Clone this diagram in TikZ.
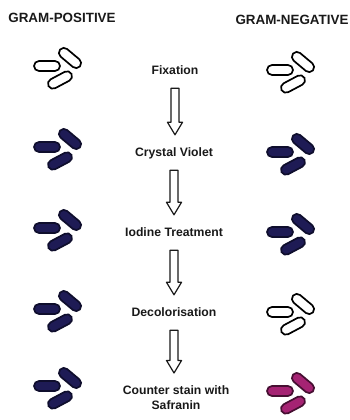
\documentclass[tikz,border=0pt]{standalone}
\usepackage{fontspec}
\setmainfont{Liberation Sans}
\usetikzlibrary{calc}

\definecolor{ink}{RGB}{25,25,25}
\definecolor{violetfill}{RGB}{30,27,85}
\definecolor{violetedge}{RGB}{15,14,45}
\definecolor{safrafill}{RGB}{165,35,115}
\definecolor{safraedge}{RGB}{70,15,50}

\tikzset{
  pics/rod/.style 2 args={code={
    \draw[rounded corners=5pt, line width=1.7pt, draw=#2, fill=#1] (-13,-5) rectangle (13,5);
  }},
  pics/cluster/.style 2 args={code={
    \pic at (0,0) {rod={#1}{#2}};
    \pic[rotate=-40] at (23,8) {rod={#1}{#2}};
    \pic[rotate=28] at (13,-14) {rod={#1}{#2}};
  }},
  lbl/.style={font=\bfseries\fontsize{12.2}{14.5}\selectfont, text=ink, inner sep=0pt,
    text height=9pt, text depth=2.5pt},
  header/.style={font=\bfseries\fontsize{13.4}{16}\selectfont, text=ink, inner sep=0pt},
  flowarrow/.style={draw=ink, line width=1.2pt, fill=white, line join=round},
}

% hollow block arrow from the foot of one step to the head of the next
\newcommand\steparrow[2]{%
  \draw[flowarrow] let \p1=(#1.south), \p2=(#2.north) in
    (\x1-4,\y1-11) -- (\x1-4,\y2+25) -- (\x1-7.5,\y2+25) -- (\x1,\y2+12.5)
    -- (\x1+7.5,\y2+25) -- (\x1+4,\y2+25) -- (\x1+4,\y1-11) -- cycle;}

\begin{document}
\begin{tikzpicture}[x=1pt, y=1pt]
  \fill[white] (0,0) rectangle (350,420);
  \useasboundingbox (0,0) rectangle (350,420);

  % column headings
  \node[header] (gp) at (62,402) {GRAM-POSITIVE};
  \node[header] (gn) at (292,400) {GRAM-NEGATIVE};

  % staining steps
  \node[lbl, anchor=base] (fix) at (175,345.5) {Fixation};
  \node[lbl, anchor=base] (cv)  at (174,263.5) {Crystal Violet};
  \node[lbl, anchor=base] (io)  at (174,183.5) {Iodine Treatment};
  \node[lbl, anchor=base] (dec) at (174,103.5) {Decolorisation};
  \node[lbl, anchor=north, align=center, text height=, text depth=] (cs) at (176,34.5)
    {Counter stain with\\Safranin};

  \steparrow{fix}{cv}
  \steparrow{cv}{io}
  \steparrow{io}{dec}
  \steparrow{dec}{cs}

  % gram-positive cells
  \pic at (47,354) {cluster={white}{black}};
  \pic at (47,273) {cluster={violetfill}{violetedge}};
  \pic at (47,192) {cluster={violetfill}{violetedge}};
  \pic at (47,111) {cluster={violetfill}{violetedge}};
  \pic at (47,34)  {cluster={violetfill}{violetedge}};

  % gram-negative cells
  \pic at (280,350) {cluster={white}{black}};
  \pic at (280,268) {cluster={violetfill}{violetedge}};
  \pic at (280,188) {cluster={violetfill}{violetedge}};
  \pic at (280,108) {cluster={white}{black}};
  \pic at (280,29)  {cluster={safrafill}{safraedge}};
\end{tikzpicture}
\end{document}
